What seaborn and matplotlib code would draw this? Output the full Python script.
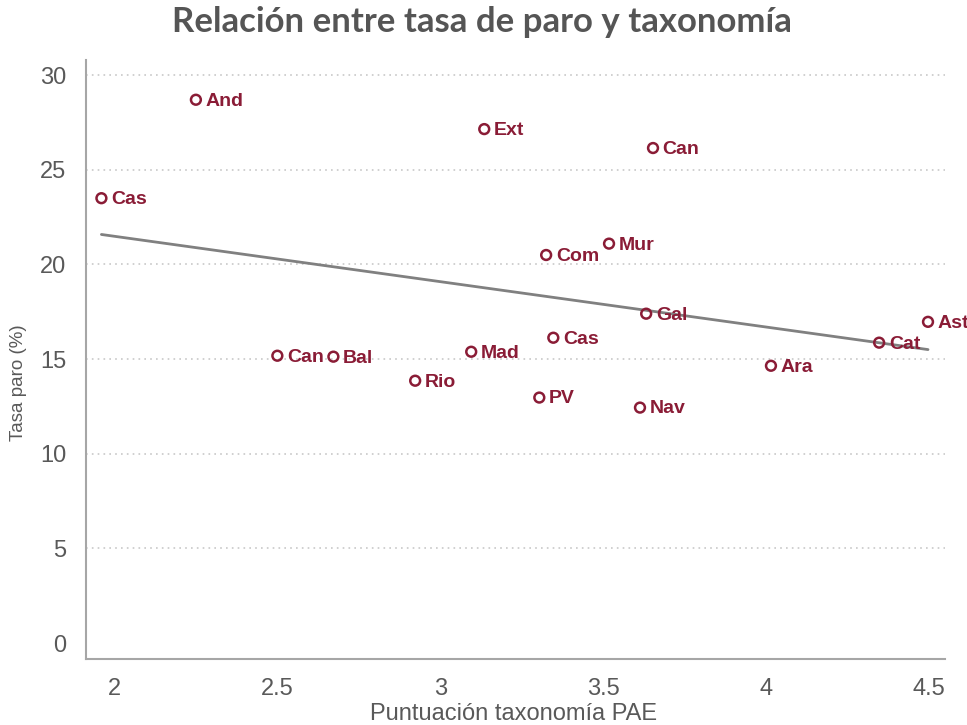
import numpy as np
import pandas as pd
import matplotlib
matplotlib.use("Agg")
import matplotlib.pyplot as plt
import seaborn as sns

# Data
regions = ['Cas', 'And', 'Ext', 'Can', 'Mur', 'Com', 'Gal', 'Ast', 'Cat',
           'Cas', 'Mad', 'Can', 'Bal', 'Ara', 'Rio', 'PV', 'Nav']
pae_score = [1.96, 2.25, 3.135, 3.653, 3.518, 3.325, 3.632, 4.497, 4.347,
             3.347, 3.095, 2.50, 2.672, 4.015, 2.923, 3.304, 3.613]
unemployment = [23.5, 28.7, 27.15, 26.15, 21.1, 20.5, 17.4, 16.97, 15.87,
                16.13, 15.39, 15.18, 15.13, 14.65, 13.86, 12.97, 12.44]
x_ticks = [2, 2.5, 3, 3.5, 4, 4.5]
x_tick_labels = ['2', '2.5', '3', '3.5', '4', '4.5']
y_ticks = [0, 5, 10, 15, 20, 25, 30]

df = pd.DataFrame({'region': regions, 'pae': pae_score, 'paro': unemployment})

sns.set_style("white")
plt.rcParams['font.family'] = ['Liberation Sans', 'DejaVu Sans']

marker_color = '#8a1c36'
axis_grey = '#a6a6a6'
text_grey = '#595959'

fig = plt.figure(figsize=(9.67, 7.25), dpi=100)
ax = fig.add_axes([0.0889, 0.091, 0.8883, 0.826])

# Fitted line
sns.regplot(data=df, x='pae', y='paro', ax=ax, scatter=False, ci=None,
            truncate=True, color='#808080', line_kws={'linewidth': 2})

# Hollow markers
sns.scatterplot(data=df, x='pae', y='paro', ax=ax, marker='o', s=50,
                facecolors='none', edgecolor=marker_color, linewidth=1.8,
                zorder=3)

for _, row in df.iterrows():
    ax.annotate(row['region'], (row['pae'], row['paro']), xytext=(7, -1),
                textcoords='offset points', va='center', ha='left',
                fontsize=14, fontweight='bold', color=marker_color,
                annotation_clip=False)

ax.set_xlim(1.9126, 4.549)
ax.set_ylim(-0.84, 30.79)
ax.set_xticks(x_ticks)
ax.set_xticklabels(x_tick_labels)
ax.set_yticks(y_ticks)

# Dotted grid lines for y ticks above zero
for yv in y_ticks[1:]:
    ax.axhline(yv, color='#c8c8c8', linestyle=(0, (1, 2.5)),
               linewidth=1.2, zorder=0)

for side in ['top', 'right']:
    ax.spines[side].set_visible(False)
for side in ['left', 'bottom']:
    ax.spines[side].set_color(axis_grey)
    ax.spines[side].set_linewidth(1.5)

ax.tick_params(axis='both', direction='out', length=6, width=1.3,
               color=axis_grey, labelcolor=text_grey)
ax.tick_params(axis='y', labelsize=17, pad=8)
ax.tick_params(axis='x', labelsize=17, pad=8)

ax.set_xlabel('Puntuación taxonomía PAE', fontsize=17, color=text_grey,
              va='baseline')
ax.xaxis.set_label_coords(0.498, -0.1018)
ax.set_ylabel('Tasa paro (%)', fontsize=13.5, color=text_grey)
ax.yaxis.set_label_coords(-0.0687, 0.461)

fig.text(0.4985, 0.9559, 'Relación entre tasa de paro y taxonomía',
         ha='center', va='baseline', fontsize=25, fontweight='bold',
         color='#555555', family=['Lato', 'DejaVu Sans'])

fig.savefig('out.png', dpi=100)
